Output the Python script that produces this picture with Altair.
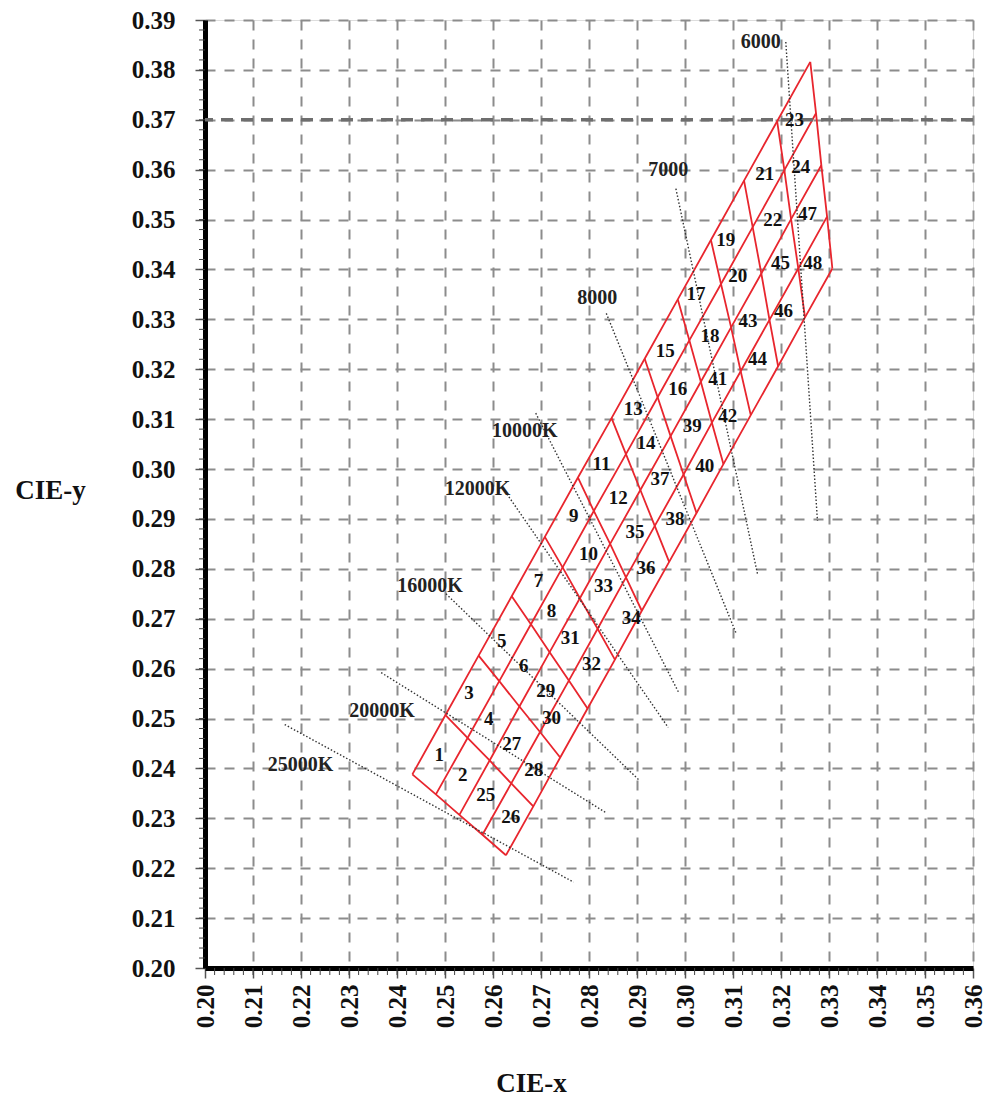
import altair as alt
import pandas as pd
import numpy as np

# ---- mesh vertices (CIE x, y) : 13 across-lines (rows of vertices) x 5 columns ----
VX = [
    [0.2432, 0.2481, 0.2530, 0.2578, 0.2627],
    [0.2501, 0.2547, 0.2593, 0.2638, 0.2684],
    [0.2570, 0.2613, 0.2655, 0.2698, 0.2740],
    [0.2639, 0.2679, 0.2718, 0.2758, 0.2797],
    [0.2708, 0.2745, 0.2781, 0.2818, 0.2854],
    [0.2777, 0.2810, 0.2844, 0.2877, 0.2910],
    [0.2847, 0.2877, 0.2907, 0.2937, 0.2967],
    [0.2916, 0.2943, 0.2970, 0.2997, 0.3024],
    [0.2985, 0.3009, 0.3033, 0.3056, 0.3080],
    [0.3054, 0.3075, 0.3096, 0.3116, 0.3137],
    [0.3123, 0.3141, 0.3159, 0.3176, 0.3194],
    [0.3192, 0.3207, 0.3221, 0.3236, 0.3250],
    [0.3261, 0.3273, 0.3284, 0.3296, 0.3307],
]
VY = [
    [0.2388, 0.2348, 0.2307, 0.2267, 0.2226],
    [0.2507, 0.2461, 0.2416, 0.2370, 0.2324],
    [0.2626, 0.2575, 0.2524, 0.2473, 0.2422],
    [0.2745, 0.2689, 0.2633, 0.2576, 0.2520],
    [0.2864, 0.2803, 0.2741, 0.2680, 0.2618],
    [0.2983, 0.2916, 0.2850, 0.2783, 0.2716],
    [0.3102, 0.3030, 0.2958, 0.2886, 0.2814],
    [0.3221, 0.3144, 0.3066, 0.2989, 0.2912],
    [0.3340, 0.3258, 0.3175, 0.3093, 0.3010],
    [0.3459, 0.3371, 0.3284, 0.3196, 0.3108],
    [0.3578, 0.3485, 0.3392, 0.3299, 0.3206],
    [0.3697, 0.3599, 0.3501, 0.3402, 0.3304],
    [0.3816, 0.3713, 0.3609, 0.3506, 0.3402],
]

# ---- bin numbers and label positions ----
bin_no = [1, 2, 25, 26, 3, 4, 27, 28, 5, 6, 29, 30, 7, 8, 31, 32,
          9, 10, 33, 34, 11, 12, 35, 36, 13, 14, 37, 38, 15, 16, 39, 40,
          17, 18, 41, 42, 19, 20, 43, 44, 21, 22, 45, 46, 23, 24, 47, 48]
bin_x = [0.2488, 0.2537, 0.2585, 0.2637, 0.2550, 0.2591, 0.2639, 0.2685,
         0.2618, 0.2664, 0.2710, 0.2722, 0.2695, 0.2722, 0.2761, 0.2805,
         0.2768, 0.2799, 0.2830, 0.2888, 0.2826, 0.2861, 0.2896, 0.2919,
         0.2892, 0.2919, 0.2948, 0.2979, 0.2959, 0.2985, 0.3015, 0.3041,
         0.3023, 0.3052, 0.3068, 0.3089, 0.3085, 0.3110, 0.3131, 0.3151,
         0.3166, 0.3183, 0.3199, 0.3205, 0.3228, 0.3241, 0.3255, 0.3266]
bin_y = [0.2426, 0.2386, 0.2346, 0.2302, 0.2552, 0.2500, 0.2448, 0.2396,
         0.2656, 0.2606, 0.2556, 0.2502, 0.2776, 0.2716, 0.2662, 0.2610,
         0.2906, 0.2830, 0.2766, 0.2702, 0.3010, 0.2942, 0.2874, 0.2802,
         0.3120, 0.3052, 0.2980, 0.2900, 0.3236, 0.3160, 0.3086, 0.3006,
         0.3350, 0.3266, 0.3180, 0.3106, 0.3460, 0.3386, 0.3296, 0.3220,
         0.3592, 0.3500, 0.3412, 0.3316, 0.3700, 0.3606, 0.3512, 0.3412]

# ---- isotherm (CCT) lines ----
iso_name = ["25000K", "20000K", "16000K", "12000K", "10000K", "8000", "7000", "6000"]
iso_x1 = [0.2166, 0.2367, 0.2502, 0.2629, 0.2689, 0.2836, 0.2981, 0.3210]
iso_y1 = [0.2488, 0.2592, 0.2750, 0.2950, 0.3112, 0.3312, 0.3562, 0.3856]
iso_x2 = [0.2768, 0.2834, 0.2905, 0.2965, 0.2988, 0.3106, 0.3151, 0.3276]
iso_y2 = [0.2172, 0.2312, 0.2376, 0.2482, 0.2550, 0.2672, 0.2790, 0.2896]
iso_lx = [0.2199, 0.2369, 0.2469, 0.2568, 0.2666, 0.2817, 0.2965, 0.3158]
iso_ly = [0.2406, 0.2516, 0.2766, 0.2960, 0.3076, 0.3342, 0.3600, 0.3856]

x_ticks = [0.20, 0.21, 0.22, 0.23, 0.24, 0.25, 0.26, 0.27, 0.28,
           0.29, 0.30, 0.31, 0.32, 0.33, 0.34, 0.35, 0.36]
y_ticks = [0.20, 0.21, 0.22, 0.23, 0.24, 0.25, 0.26, 0.27, 0.28, 0.29,
           0.30, 0.31, 0.32, 0.33, 0.34, 0.35, 0.36, 0.37, 0.38, 0.39]
strong_grid_y = [0.37]

W, H = 768, 948
FONT = "Liberation Serif"

# build line table for the mesh
rows = []
for j in range(5):
    for i in range(13):
        rows.append({"id": f"a{j}", "o": i, "x": VX[i][j], "y": VY[i][j]})
for i in range(13):
    for j in range(5):
        rows.append({"id": f"c{i}", "o": j, "x": VX[i][j], "y": VY[i][j]})
mesh = pd.DataFrame(rows)

bins = pd.DataFrame({"n": [str(b) for b in bin_no], "x": bin_x, "y": bin_y})
iso = pd.DataFrame({"name": iso_name, "x1": iso_x1, "y1": iso_y1,
                    "x2": iso_x2, "y2": iso_y2, "lx": iso_lx, "ly": iso_ly})

minor_x = pd.DataFrame({"v": [round(v, 3) for v in np.arange(0.202, 0.36, 0.002)]})
minor_y = pd.DataFrame({"v": [round(v, 3) for v in np.arange(0.202, 0.39, 0.002)]})

xs = alt.Scale(domain=[0.20, 0.36], nice=False, zero=False)
ys = alt.Scale(domain=[0.20, 0.39], nice=False, zero=False)

xaxis = alt.Axis(values=x_ticks, format=".2f", labelAngle=-90, title="CIE-x",
                 titleFont=FONT, titleFontSize=27, titleFontWeight="bold", titleColor="#111",
                 titleX=326, titleY=115, titleBaseline="middle", titleAlign="center",
                 labelFont=FONT, labelFontSize=25, labelFontWeight="bold", labelColor="#111",
                 labelPadding=6, tickSize=10, tickWidth=1.5, tickColor="#555",
                 domainColor="#000", domainWidth=5,
                 grid=True, gridDash=[10, 9], gridColor="#8c8c8c", gridWidth=2)
yaxis = alt.Axis(values=y_ticks, format=".2f", title="CIE-y", titleAngle=0,
                 titleFont=FONT, titleFontSize=27, titleFontWeight="bold", titleColor="#111",
                 titleX=-155, titleY=470, titleBaseline="middle", titleAlign="center",
                 labelFont=FONT, labelFontSize=25, labelFontWeight="bold", labelColor="#111",
                 labelPadding=20, tickSize=10, tickWidth=1.5, tickColor="#555",
                 domainColor="#000", domainWidth=5,
                 grid=True, gridDash=[10, 9], gridColor="#8c8c8c", gridWidth=2)

base_x = alt.X("x:Q", scale=xs, axis=xaxis)
base_y = alt.Y("y:Q", scale=ys, axis=yaxis)

strong = alt.Chart(pd.DataFrame({"y": strong_grid_y})).mark_rule(
    color="#6e6e6e", strokeWidth=3.5, strokeDash=[12, 8]
).encode(y=alt.Y("y:Q", scale=ys))

mesh_layer = alt.Chart(mesh).mark_line(color="#e8262e", strokeWidth=1.8).encode(
    x=base_x, y=base_y, detail="id:N", order="o:Q"
)

iso_lines = alt.Chart(iso).mark_rule(color="#333", strokeWidth=1.4, strokeDash=[1.5, 2]).encode(
    x=alt.X("x1:Q", scale=xs), y=alt.Y("y1:Q", scale=ys), x2="x2:Q", y2="y2:Q"
)

iso_text = alt.Chart(iso).mark_text(font=FONT, fontSize=20, fontWeight="bold", color="#222",
                                    align="center", baseline="middle").encode(
    x=alt.X("lx:Q", scale=xs), y=alt.Y("ly:Q", scale=ys), text="name:N"
)

bin_text = alt.Chart(bins).mark_text(font=FONT, fontSize=19, fontWeight="bold", color="#111",
                                     align="center", baseline="middle").encode(
    x=alt.X("x:Q", scale=xs), y=alt.Y("y:Q", scale=ys), text="n:N"
)

mx = alt.Chart(minor_x).mark_rule(color="#444", strokeWidth=1).encode(
    x=alt.X("v:Q", scale=xs), y=alt.value(H), y2=alt.value(H + 7)
)
my = alt.Chart(minor_y).mark_rule(color="#444", strokeWidth=1).encode(
    y=alt.Y("v:Q", scale=ys), x=alt.value(0), x2=alt.value(-6)
)

chart = alt.layer(mesh_layer, strong, iso_lines, iso_text, bin_text, mx, my).properties(
    width=W, height=H,
    autosize=alt.AutoSizeParams(type="none"),
    padding={"left": 197, "top": 12, "right": 14, "bottom": 133},
).configure_view(stroke=None).configure(background="white")

chart.save("out.html", embed_options={"renderer": "svg", "actions": False})
